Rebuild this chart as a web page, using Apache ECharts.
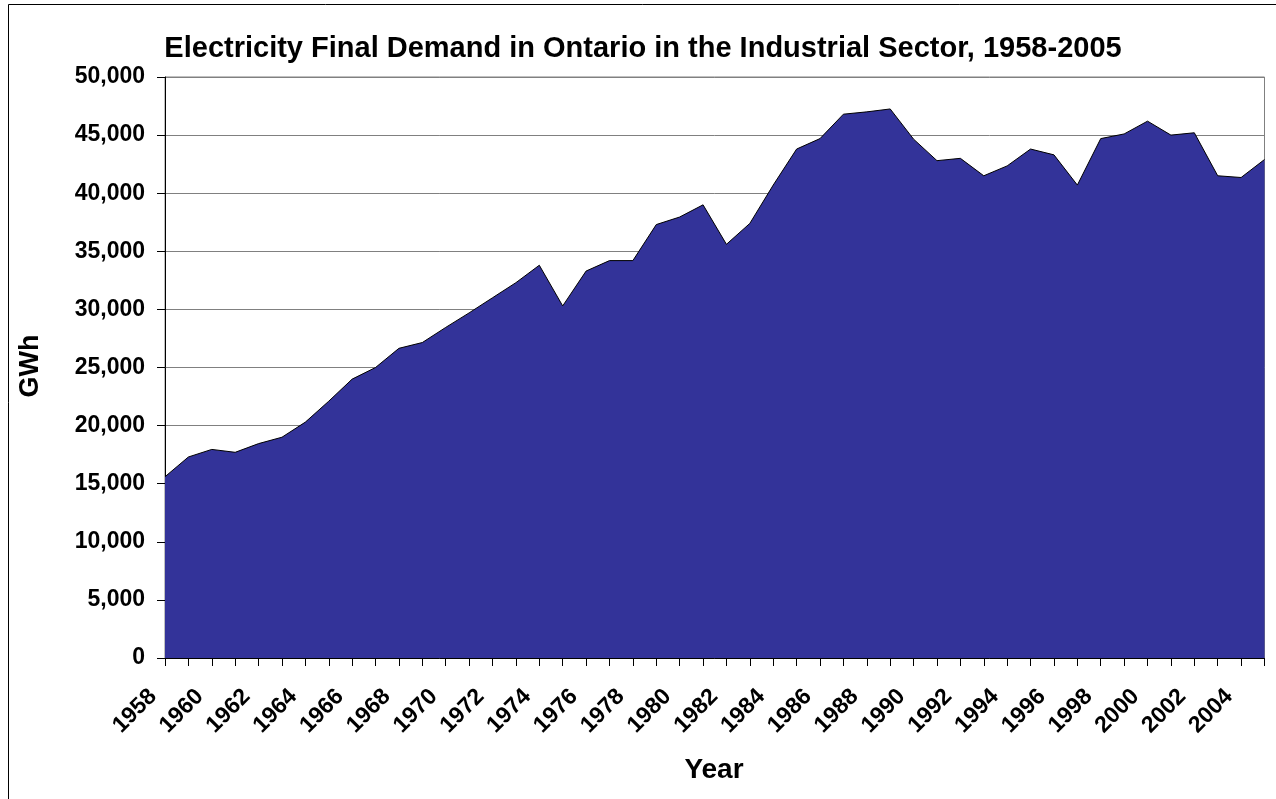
<!DOCTYPE html>
<html>
<head>
<meta charset="utf-8">
<script src="https://cdn.jsdelivr.net/npm/echarts@6/dist/echarts.min.js"></script>
<style>
html,body{margin:0;padding:0;background:#fff;}
#chart{width:1276px;height:799px;}
</style>
</head>
<body>
<div id="chart"></div>
<script>
const years = [];
for (let y = 1958; y <= 2005; y++) years.push(String(y));
const demand = [
  15600, 17300, 17950, 17700, 18450, 19000, 20300, 22100, 24000, 25000,
  26650, 27150, 28450, 29700, 31000, 32300, 33800, 30300, 33300, 34200,
  34200, 37300, 37950, 39000, 35600, 37400, 40700, 43800, 44700, 46800,
  47000, 47250, 44650, 42800, 43000, 41500, 42350, 43800, 43300, 40700,
  44700, 45100, 46200, 45000, 45200, 41500, 41350, 42900
];
const titleText = 'Electricity Final Demand in Ontario in the Industrial Sector, 1958-2005';
const yName = 'GWh';
const xName = 'Year';

const font = '"Liberation Sans", Arial, sans-serif';
const chart = echarts.init(document.getElementById('chart'), null, {renderer: 'canvas'});
chart.setOption({
  animation: false,
  backgroundColor: '#fff',
  title: {
    text: titleText,
    left: 638, top: 29, textAlign: 'center',
    textStyle: {fontFamily: font, fontWeight: 'bold', fontSize: 29, color: '#000'}
  },
  graphic: [{
    type: 'rect', silent: true,
    shape: {x: 8.5, y: 4.5, width: 1400, height: 1400},
    style: {fill: 'none', stroke: '#000', lineWidth: 1}
  }, {
    type: 'text', rotation: Math.PI / 2, x: 31, y: 366,
    style: {text: yName, font: 'bold 27px ' + font, fill: '#000', textAlign: 'center', textVerticalAlign: 'middle'}
  }, {
    type: 'text',
    style: {text: xName, font: 'bold 28px ' + font, fill: '#000', x: 714, y: 770, textAlign: 'center', textVerticalAlign: 'middle'}
  }],
  grid: {
    left: 165, right: 11.5, top: 77, bottom: 141,
    show: true, borderColor: '#808080', borderWidth: 1, backgroundColor: 'transparent'
  },
  xAxis: {
    type: 'category', data: years, boundaryGap: false,
    axisLine: {lineStyle: {color: '#000', width: 1}},
    axisTick: {show: true, interval: 0, length: 8, inside: false, lineStyle: {color: '#000'}},
    axisLabel: {
      interval: 1, rotate: 45, margin: 23, padding: [0, 17, 0, 0],
      fontFamily: font, fontWeight: 'bold', fontSize: 23, color: '#000'
    },
    splitLine: {show: false}
  },
  yAxis: {
    type: 'value', min: 0, max: 50000, interval: 5000,
    axisLine: {show: true, lineStyle: {color: '#000', width: 1}},
    axisTick: {show: true, length: 8, lineStyle: {color: '#000'}},
    axisLabel: {
      margin: 20, fontFamily: font, fontWeight: 'bold', fontSize: 23, color: '#000',
      formatter: v => v.toLocaleString('en-US')
    },
    splitLine: {show: true, lineStyle: {color: '#808080', width: 1}}
  },
  series: [{
    type: 'line', data: demand, symbol: 'none',
    lineStyle: {color: '#000', width: 1},
    areaStyle: {color: '#333399', opacity: 1},
    z: 3
  }]
});
</script>
</body>
</html>
